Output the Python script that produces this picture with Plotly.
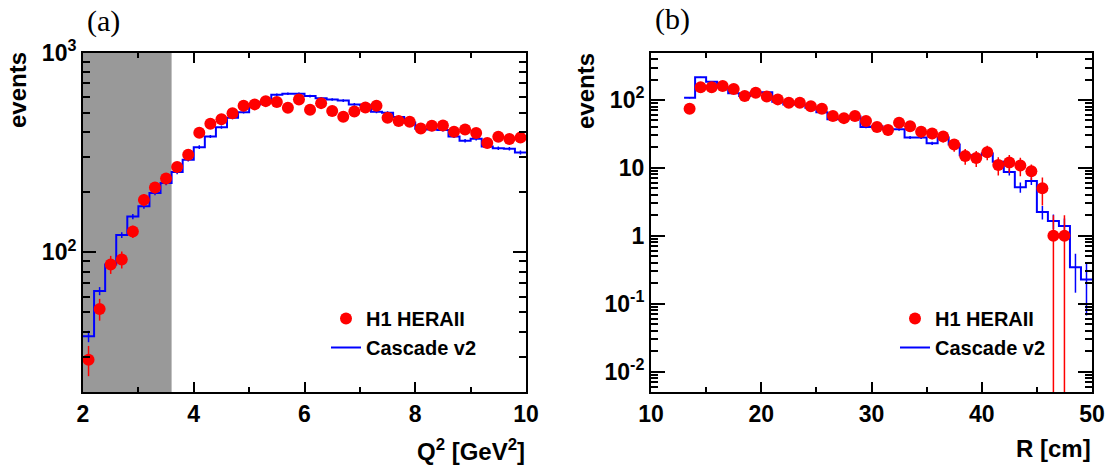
import math
import plotly.graph_objects as go

# ---------------- data: panel (a) ----------------
q2_edges = [2.0, 2.2, 2.4, 2.6, 2.8, 3.0, 3.2, 3.4, 3.6, 3.8, 4.0, 4.2, 4.4, 4.6, 4.8,
            5.0, 5.2, 5.4, 5.6, 5.8, 6.0, 6.2, 6.4, 6.6, 6.8, 7.0, 7.2, 7.4, 7.6, 7.8,
            8.0, 8.2, 8.4, 8.6, 8.8, 9.0, 9.2, 9.4, 9.6, 9.8, 10.0]
q2_centers = [2.1, 2.3, 2.5, 2.7, 2.9, 3.1, 3.3, 3.5, 3.7, 3.9, 4.1, 4.3, 4.5, 4.7, 4.9,
              5.1, 5.3, 5.5, 5.7, 5.9, 6.1, 6.3, 6.5, 6.7, 6.9, 7.1, 7.3, 7.5, 7.7, 7.9,
              8.1, 8.3, 8.5, 8.7, 8.9, 9.1, 9.3, 9.5, 9.7, 9.9]
h1_q2 = [29, 52, 87, 92, 127, 183, 211, 234, 267, 308, 397, 440, 464, 497, 541,
         550, 571, 565, 529, 582, 517, 558, 509, 477, 507, 531, 541, 471, 454, 450,
         417, 430, 431, 401, 412, 395, 352, 379, 369, 375]
h1_q2_err = [5, 6.5, 9, 9, 9, 13, 14, 15, 16, 18, 20, 21, 21, 22, 23,
             23, 24, 24, 23, 24, 23, 24, 23, 22, 22, 23, 23, 22, 21, 21,
             20, 21, 21, 20, 20, 20, 19, 19, 19, 19]
casc_q2 = [38, 64, 87, 122, 151, 170, 198, 222, 252, 291, 336, 380, 423, 471, 503,
           550, 565, 614, 621, 621, 605, 590, 582, 575, 550, 545, 505, 500, 475, 447,
           415, 412, 410, 380, 362, 370, 339, 332, 330, 316]
casc_q2_err = [2.5, 3, 3.5, 4, 4.5, 5, 5, 5.5, 6, 6, 7, 7, 8, 8, 8,
               9, 9, 9, 9, 9, 9, 9, 9, 9, 9, 9, 8, 8, 8, 8,
               8, 8, 8, 7, 7, 7, 7, 7, 7, 7]
q2_excluded_max = 3.6

# ---------------- data: panel (b) ----------------
r_edges = [13, 14, 15, 16, 17, 18, 19, 20, 21, 22, 23, 24, 25, 26, 27, 28, 29, 30, 31,
           32, 33, 34, 35, 36, 37, 38, 39, 40, 41, 42, 43, 44, 45, 46, 47, 48, 49, 50]
r_centers = [13.5, 14.5, 15.5, 16.5, 17.5, 18.5, 19.5, 20.5, 21.5, 22.5, 23.5, 24.5,
             25.5, 26.5, 27.5, 28.5, 29.5, 30.5, 31.5, 32.5, 33.5, 34.5, 35.5, 36.5,
             37.5, 38.5, 39.5, 40.5, 41.5, 42.5, 43.5, 44.5, 45.5, 46.5, 47.5, 48.5, 49.5]
h1_r = [74, 154, 154, 161, 145, 114, 128, 112, 102, 91, 91, 81,
        74, 58, 54, 58, 49, 40, 36, 46, 41, 34, 32, 29,
        22, 15, 14, 17, 11, 12, 10.8, 8.9, 5.0, 1.0, 1.0]
h1_r_err = [8.6, 12.4, 12.4, 12.7, 12, 10.7, 11.3, 10.6, 10.1, 9.5, 9.5, 9,
            8.6, 7.6, 7.3, 7.6, 7, 6.3, 6, 6.8, 6.4, 5.8, 5.7, 5.4,
            4.7, 3.9, 3.7, 4.1, 3.3, 3.5, 3.3, 2.3, 2.2, 1.0, 1.0]
h1_r_err_minus = [8.6, 12.4, 12.4, 12.7, 12, 10.7, 11.3, 10.6, 10.1, 9.5, 9.5, 9,
                  8.6, 7.6, 7.3, 7.6, 7, 6.3, 6, 6.8, 6.4, 5.8, 5.7, 5.4,
                  4.7, 3.9, 3.7, 4.1, 3.3, 3.5, 3.3, 2.3, 2.2, 0.9999, 0.9999]
casc_r = [108, 216, 185, 152, 126, 114, 128, 130, 94, 86, 86, 77,
          66, 52, 53, 57, 40, 41, 37, 37, 28, 28, 23, 28,
          22, 15.4, 15.4, 16.3, 12.3, 8.7, 5.2, 6.4, 2.24, 1.65, 1.39, 0.345, 0.227]
casc_r_err = [3, 4.5, 4, 3.8, 3.5, 3.3, 3.5, 3.5, 3, 2.8, 2.8, 2.6,
              2.4, 2.1, 2.1, 2.2, 1.8, 1.8, 1.7, 1.7, 1.5, 1.5, 1.3, 1.5,
              1.3, 1.1, 1.1, 1.1, 0.9, 1.0, 0.9, 0.8, 0.5, 0.4, 0.4, 0.2, 0.16]

RED = "#ff0000"
BLUE = "#0000ff"
FONT = "Liberation Sans"

W, H = 1120, 469


def px_x(p):
    return p / W


def px_y(p):
    return (H - p) / H


fig = go.Figure()

# ---- panel (a) ----
fig.add_trace(go.Scatter(x=q2_edges, y=casc_q2 + [casc_q2[-1]], mode="lines",
                         line=dict(color=BLUE, width=2, shape="hv"),
                         name="Cascade v2", legend="legend", legendrank=2,
                         xaxis="x", yaxis="y"))
fig.add_trace(go.Scatter(x=q2_centers, y=casc_q2, mode="markers",
                         marker=dict(size=1, opacity=0),
                         error_y=dict(type="data", array=casc_q2_err, color=BLUE,
                                      thickness=1.5, width=0),
                         showlegend=False, hoverinfo="skip", xaxis="x", yaxis="y"))
fig.add_trace(go.Scatter(x=q2_centers, y=h1_q2, mode="markers",
                         marker=dict(size=12, color=RED, line=dict(width=0)),
                         error_y=dict(type="data", array=h1_q2_err, color=RED,
                                      thickness=1.5, width=0),
                         name="H1 HERAII", legend="legend", legendrank=1,
                         xaxis="x", yaxis="y"))

# ---- panel (b) ----
fig.add_trace(go.Scatter(x=r_edges, y=casc_r + [casc_r[-1]], mode="lines",
                         line=dict(color=BLUE, width=2, shape="hv"),
                         name="Cascade v2", legend="legend2", legendrank=2,
                         xaxis="x2", yaxis="y2"))
fig.add_trace(go.Scatter(x=r_centers, y=casc_r, mode="markers",
                         marker=dict(size=1, opacity=0),
                         error_y=dict(type="data", array=casc_r_err, color=BLUE,
                                      thickness=1.5, width=0),
                         showlegend=False, hoverinfo="skip", xaxis="x2", yaxis="y2"))
fig.add_trace(go.Scatter(x=r_centers[:len(h1_r)], y=h1_r, mode="markers",
                         marker=dict(size=12, color=RED, line=dict(width=0)),
                         error_y=dict(type="data", array=h1_r_err, arrayminus=h1_r_err_minus,
                                      color=RED, thickness=1.5, width=0),
                         name="H1 HERAII", legend="legend2", legendrank=1,
                         xaxis="x2", yaxis="y2"))

tickfont = dict(family=FONT, size=23, color="black", weight="bold")
common = dict(showline=True, linewidth=2, linecolor="black", mirror="allticks",
              ticks="inside", tickwidth=1.5, tickcolor="black", showgrid=False,
              zeroline=False, tickfont=tickfont, automargin=False)

left_dom_x = [px_x(83), px_x(526)]
right_dom_x = [px_x(651), px_x(1092)]
dom_y = [px_y(392), px_y(52.5)]

left_minor_y = [20, 30, 40, 50, 60, 70, 80, 90, 200, 300, 400, 500, 600, 700, 800, 900]
right_minor_y = [0.006, 0.007, 0.008, 0.009,
                 0.02, 0.03, 0.04, 0.05, 0.06, 0.07, 0.08, 0.09,
                 0.2, 0.3, 0.4, 0.5, 0.6, 0.7, 0.8, 0.9,
                 2, 3, 4, 5, 6, 7, 8, 9,
                 20, 30, 40, 50, 60, 70, 80, 90,
                 200, 300, 400]

fig.update_layout(
    width=W, height=H,
    margin=dict(l=0, r=0, t=0, b=0),
    paper_bgcolor="white", plot_bgcolor="white",
    showlegend=True,
    xaxis=dict(domain=left_dom_x, range=[2, 10], anchor="y",
               tickmode="array", tickvals=[2, 4, 6, 8, 10], ticklen=10,
               minor=dict(tickmode="array", tickvals=[3, 5, 7, 9], ticks="inside",
                          ticklen=5, tickwidth=1.5, tickcolor="black"),
               **common),
    yaxis=dict(domain=dom_y, type="log", range=[math.log10(20), 3], anchor="x",
               tickmode="array", tickvals=[100, 1000],
               ticktext=["10<sup>2</sup>", "10<sup>3</sup>"], ticklen=13,
               minor=dict(tickmode="array", tickvals=left_minor_y, ticks="inside",
                          ticklen=7, tickwidth=1.5, tickcolor="black"),
               **common),
    xaxis2=dict(domain=right_dom_x, range=[10, 50], anchor="y2",
                tickmode="array", tickvals=[10, 20, 30, 40, 50], ticklen=10,
                minor=dict(tickmode="array", tickvals=[15, 25, 35, 45], ticks="inside",
                           ticklen=5, tickwidth=1.5, tickcolor="black"),
                **common),
    yaxis2=dict(domain=dom_y, type="log", range=[math.log10(0.005), math.log10(500)],
                anchor="x2", tickmode="array", tickvals=[0.01, 0.1, 1, 10, 100],
                ticktext=["10<sup>-2</sup>", "10<sup>-1</sup>", "1", "10", "10<sup>2</sup>"],
                ticklen=14,
                minor=dict(tickmode="array", tickvals=right_minor_y, ticks="inside",
                           ticklen=7, tickwidth=1.5, tickcolor="black"),
                **common),
    legend=dict(x=px_x(326), y=px_y(299), xanchor="left", yanchor="top",
                bgcolor="rgba(0,0,0,0)", borderwidth=0,
                font=dict(family=FONT, size=20, color="black", weight="bold")),
    legend2=dict(x=px_x(895), y=px_y(299), xanchor="left", yanchor="top",
                 bgcolor="rgba(0,0,0,0)", borderwidth=0,
                 font=dict(family=FONT, size=20, color="black", weight="bold")),
    shapes=[dict(type="rect", xref="x", yref="y domain", x0=2, x1=q2_excluded_max,
                 y0=0, y1=1, fillcolor="#999999", line=dict(width=0), layer="below")],
)

title_font = dict(family=FONT, size=24, color="black", weight="bold")
annotations = [
    dict(text="events", textangle=-90, x=px_x(17.5), y=px_y(90.5), xref="paper",
         yref="paper", xanchor="center", yanchor="middle", showarrow=False, font=title_font),
    dict(text="events", textangle=-90, x=px_x(585), y=px_y(91), xref="paper",
         yref="paper", xanchor="center", yanchor="middle", showarrow=False, font=title_font),
    dict(text="Q<sup>2</sup> [GeV<sup>2</sup>]", x=px_x(527), y=px_y(450), xref="paper",
         yref="paper", xanchor="right", yanchor="middle", showarrow=False, font=title_font),
    dict(text="R [cm]", x=px_x(1093), y=px_y(448), xref="paper",
         yref="paper", xanchor="right", yanchor="middle", showarrow=False, font=title_font),
    dict(text="(a)", x=px_x(103), y=px_y(21), xref="paper", yref="paper",
         xanchor="center", yanchor="middle", showarrow=False,
         font=dict(family="Liberation Serif", size=30, color="black")),
    dict(text="(b)", x=px_x(672), y=px_y(19), xref="paper", yref="paper",
         xanchor="center", yanchor="middle", showarrow=False,
         font=dict(family="Liberation Serif", size=30, color="black")),
]
fig.update_layout(annotations=annotations)

fig.write_html("out.html", config={"displayModeBar": False},
               post_script="document.body.style.margin='0';")
